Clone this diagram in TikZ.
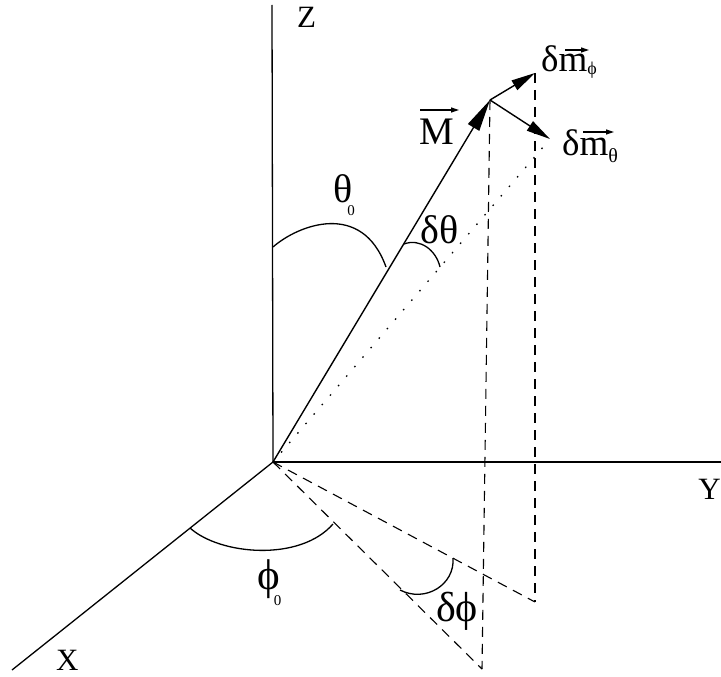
\documentclass[tikz,border=0pt]{standalone}
\usepackage{fontspec}
\setmainfont{Liberation Serif}
\usetikzlibrary{arrows.meta}
\begin{document}
\begin{tikzpicture}[x=1pt,y=-1pt,
  axis/.style={line width=1.3pt},
  vec/.style={line width=1.4pt},
  bigtip/.style={-{Triangle[length=32pt,width=13pt]}},
  smalltip/.style={-{Triangle[length=24pt,width=11pt]}},
  overtip/.style={line width=1.2pt,-{Triangle[length=8pt,width=5pt]}},
  dsh/.style={line width=1.1pt,dash pattern=on 10pt off 7pt},
  dts/.style={line width=1.3pt,dash pattern=on 1.5pt off 11pt},
  arcline/.style={line width=1.3pt},
  axlab/.style={inner sep=0pt,anchor=base west,font=\fontsize{31}{31}\selectfont},
  glab/.style={inner sep=0pt,font=\fontsize{40}{40}\selectfont},
]
\newcommand\subz[2]{\raisebox{#1}{\fontsize{15}{15}\selectfont #2}}
\useasboundingbox (0,0) rectangle (721,677);
% key points
\coordinate (O) at (273,462);
\coordinate (Ztop) at (272,5);
\coordinate (Yend) at (721,462);
\coordinate (Xend) at (12,670);
\coordinate (Mt) at (490,100);
\coordinate (Dp) at (535,73);
\coordinate (Dt) at (550,139);
\coordinate (Dd) at (544,146);
\coordinate (P1) at (482,669);
\coordinate (P2) at (535,602);
% axes
\draw[axis] (O) -- (Ztop);
\draw[axis] (O) -- (Yend);
\draw[axis] (O) -- (Xend);
% projections
\draw[dsh] (Mt) -- (P1);
\draw[dsh] (Dp) -- (P2);
\draw[dsh] (O) -- (P1);
\draw[dsh] (O) -- (P2);
\draw[dts] (O) -- (Dd);
% vectors
\draw[vec,bigtip] (O) -- (Mt);
\draw[vec,smalltip] (Mt) -- (Dp);
\draw[vec,smalltip] (Mt) -- (Dt);
% angle arcs
\draw[arcline] (273,247) .. controls (298,225) and (362,200) .. (386,267);
\draw[arcline] (404,244) .. controls (420,238) and (436,250) .. (440,267);
\draw[arcline] (190,528) .. controls (220,555) and (300,562) .. (333,524);
\draw[arcline] (453,558) .. controls (455,585) and (425,603) .. (400,590);
% labels
\node[axlab] (zl) at (297,28) {Z};
\node[axlab,anchor=base east] (yl) at (721,499) {Y};
\node[axlab] (xl) at (56,670) {X};
\node[glab,anchor=base west,font=\fontsize{39}{39}\selectfont] (ml) at (419,145) {M};
\draw[overtip] (420,110) -- (459,110);
\node[glab,anchor=base west] (th0) at (333,202) {θ\kern-5pt\subz{-13pt}{0}};
\node[glab] (dth) at (440,230) {δθ};
\node[glab,anchor=base west,font=\fontsize{43}{43}\selectfont] (ph0) at (257,589) {\char"03D5\kern-6pt\subz{-16pt}{0}};
\node[glab,font=\fontsize{42}{42}\selectfont] (dph) at (457,611) {δ\char"03D5};
\node[glab,anchor=base west,font=\fontsize{37}{37}\selectfont] (dmp) at (541,72) {δm\raisebox{-2pt}{\fontsize{18}{18}\selectfont\char"03D5}};
\draw[overtip] (565,50) -- (589,50);
\node[glab,anchor=base west,font=\fontsize{37}{37}\selectfont] (dmt) at (562,155) {δm\raisebox{-7pt}{\fontsize{20}{20}\selectfont θ}};
\draw[overtip] (583,132) -- (614,132);
\end{tikzpicture}
\end{document}
